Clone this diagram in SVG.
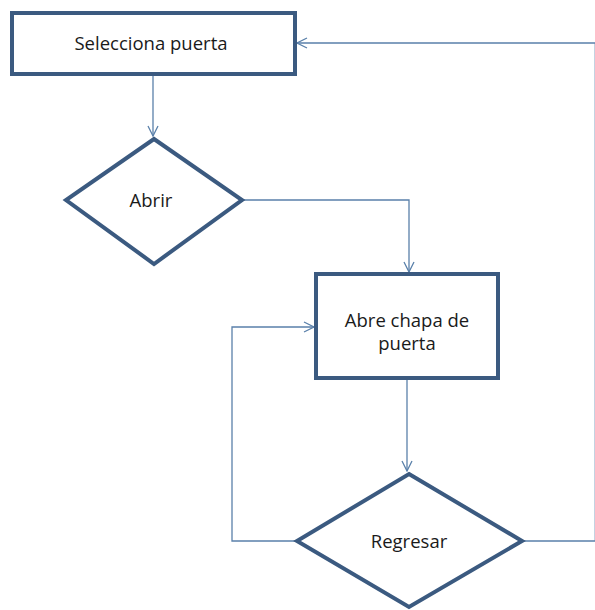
<svg xmlns="http://www.w3.org/2000/svg" width="595" height="610" viewBox="0 0 595 610">
<defs>
<style>
.node{fill:#ffffff;stroke:#3b5a80;stroke-width:4;stroke-linejoin:miter}
.lbl{font-family:"Open Sans","Liberation Sans",sans-serif;font-size:18.5px;fill:#1a1a1a;text-anchor:middle}
.conn{fill:none;stroke:#5a80aa;stroke-width:1.3}
</style>
<marker id="arr" viewBox="0 0 12 12" refX="11" refY="6" markerWidth="12" markerHeight="12" markerUnits="userSpaceOnUse" orient="auto">
<path d="M1,1 L11,6 L1,11" fill="none" stroke="#5a80aa" stroke-width="1.3"/>
</marker>
</defs>
<rect width="595" height="610" fill="#ffffff"/>
<g id="connectors">
<path class="conn" d="M153,75 L153,136" marker-end="url(#arr)"/>
<path class="conn" d="M243,200 L409,200 L409,272" marker-end="url(#arr)"/>
<path class="conn" d="M407,380 L407,471" marker-end="url(#arr)"/>
<path class="conn" d="M296,541 L232,541 L232,327 L314,327" marker-end="url(#arr)"/>
<path class="conn" d="M523,541 L595.3,541 L595.3,43 L297,43" marker-end="url(#arr)"/>
</g>
<g id="selecciona">
<rect class="node" x="12" y="13" width="283" height="61"/>
<text class="lbl" x="151" y="50">Selecciona puerta</text>
</g>
<g id="abrir">
<polygon class="node" points="154,139 242,200 154,264 66,200"/>
<text class="lbl" x="151" y="207">Abrir</text>
</g>
<g id="abre-chapa">
<rect class="node" x="316" y="274" width="182" height="104"/>
<text class="lbl" x="407" y="327">Abre chapa de</text>
<text class="lbl" x="407" y="350">puerta</text>
</g>
<g id="regresar">
<polygon class="node" points="409,474 522,541 409,607 297,541"/>
<text class="lbl" x="409" y="548">Regresar</text>
</g>
</svg>
